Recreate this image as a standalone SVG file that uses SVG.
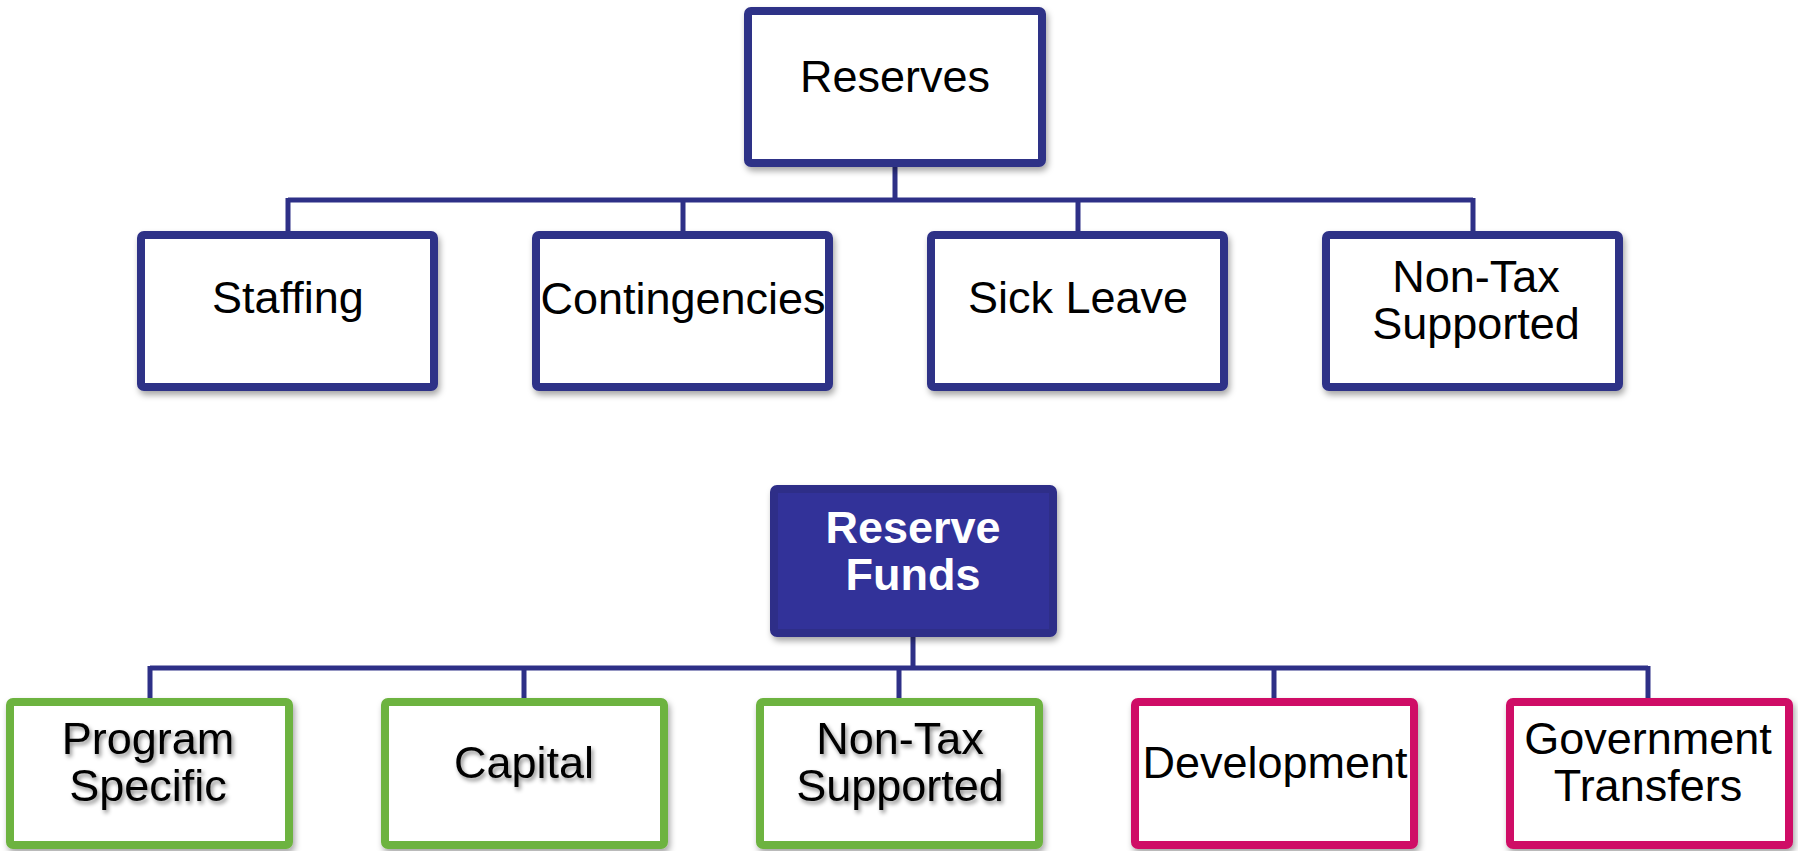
<svg xmlns="http://www.w3.org/2000/svg" width="1798" height="851" viewBox="0 0 1798 851">
<defs>
<filter id="shadow" x="-10%" y="-10%" width="125%" height="130%">
<feDropShadow dx="2" dy="4" stdDeviation="3" flood-color="#000" flood-opacity="0.35"/>
</filter>
<filter id="tshadow" x="-10%" y="-20%" width="130%" height="150%">
<feDropShadow dx="2" dy="3" stdDeviation="2" flood-color="#000" flood-opacity="0.45"/>
</filter>
</defs>
<style>
.box{fill:#fff;stroke:#2E3087;stroke-width:8;filter:url(#shadow)}
.green{fill:#fff;stroke:#6DB33F;stroke-width:8;filter:url(#shadow)}
.pink{fill:#fff;stroke:#CF0A66;stroke-width:8;filter:url(#shadow)}
.dark{fill:#333399;stroke:#2E2D88;stroke-width:8;filter:url(#shadow)}
.t{font-family:"Liberation Sans",Arial,sans-serif;font-size:45px;fill:#000;text-anchor:middle}
.ts{filter:url(#tshadow)}
.w{font-family:"Liberation Sans",Arial,sans-serif;font-size:45px;font-weight:bold;fill:#fff;text-anchor:middle}
.c{fill:none;stroke:#2E3087;stroke-width:5}
</style>
<rect width="1798" height="851" fill="#fff"/>
<g id="connectors">
<path class="c" d="M895 167V200M288 200H1473M288 198V231M683 200V231M1078 200V231M1473 198V231"/>
<path class="c" d="M913 637V668M150 668H1648M150 666V698M524 668V698M899 668V698M1274 668V698M1648 666V698"/>
</g>
<g id="reserves">
<rect class="box" x="748" y="11" width="294" height="152" rx="3"/>
<text class="t" x="895" y="92">Reserves</text>
</g>
<g id="staffing">
<rect class="box" x="141" y="235" width="293" height="152" rx="3"/>
<text class="t" x="288" y="313">Staffing</text>
</g>
<g id="contingencies">
<rect class="box" x="536" y="235" width="293" height="152" rx="3"/>
<text class="t" x="683" y="314">Contingencies</text>
</g>
<g id="sick-leave">
<rect class="box" x="931" y="235" width="293" height="152" rx="3"/>
<text class="t" x="1078" y="313">Sick Leave</text>
</g>
<g id="non-tax-top">
<rect class="box" x="1326" y="235" width="293" height="152" rx="3"/>
<text class="t" x="1476" y="292">Non-Tax<tspan x="1476" dy="47">Supported</tspan></text>
</g>
<g id="reserve-funds">
<rect class="dark" x="774" y="489" width="279" height="144" rx="3"/>
<text class="w" x="913" y="543">Reserve<tspan x="913" dy="47">Funds</tspan></text>
</g>
<g id="program-specific">
<rect class="green" x="10" y="702" width="279" height="143" rx="3"/>
<text class="t ts" x="148" y="754">Program<tspan x="148" dy="47">Specific</tspan></text>
</g>
<g id="capital">
<rect class="green" x="385" y="702" width="279" height="143" rx="3"/>
<text class="t ts" x="524" y="778">Capital</text>
</g>
<g id="non-tax-bottom">
<rect class="green" x="760" y="702" width="279" height="143" rx="3"/>
<text class="t ts" x="900" y="754">Non-Tax<tspan x="900" dy="47">Supported</tspan></text>
</g>
<g id="development">
<rect class="pink" x="1135" y="702" width="279" height="143" rx="3"/>
<text class="t" x="1275" y="778">Development</text>
</g>
<g id="government-transfers">
<rect class="pink" x="1510" y="702" width="279" height="143" rx="3"/>
<text class="t" x="1648" y="754">Government<tspan x="1648" dy="47">Transfers</tspan></text>
</g>
</svg>
